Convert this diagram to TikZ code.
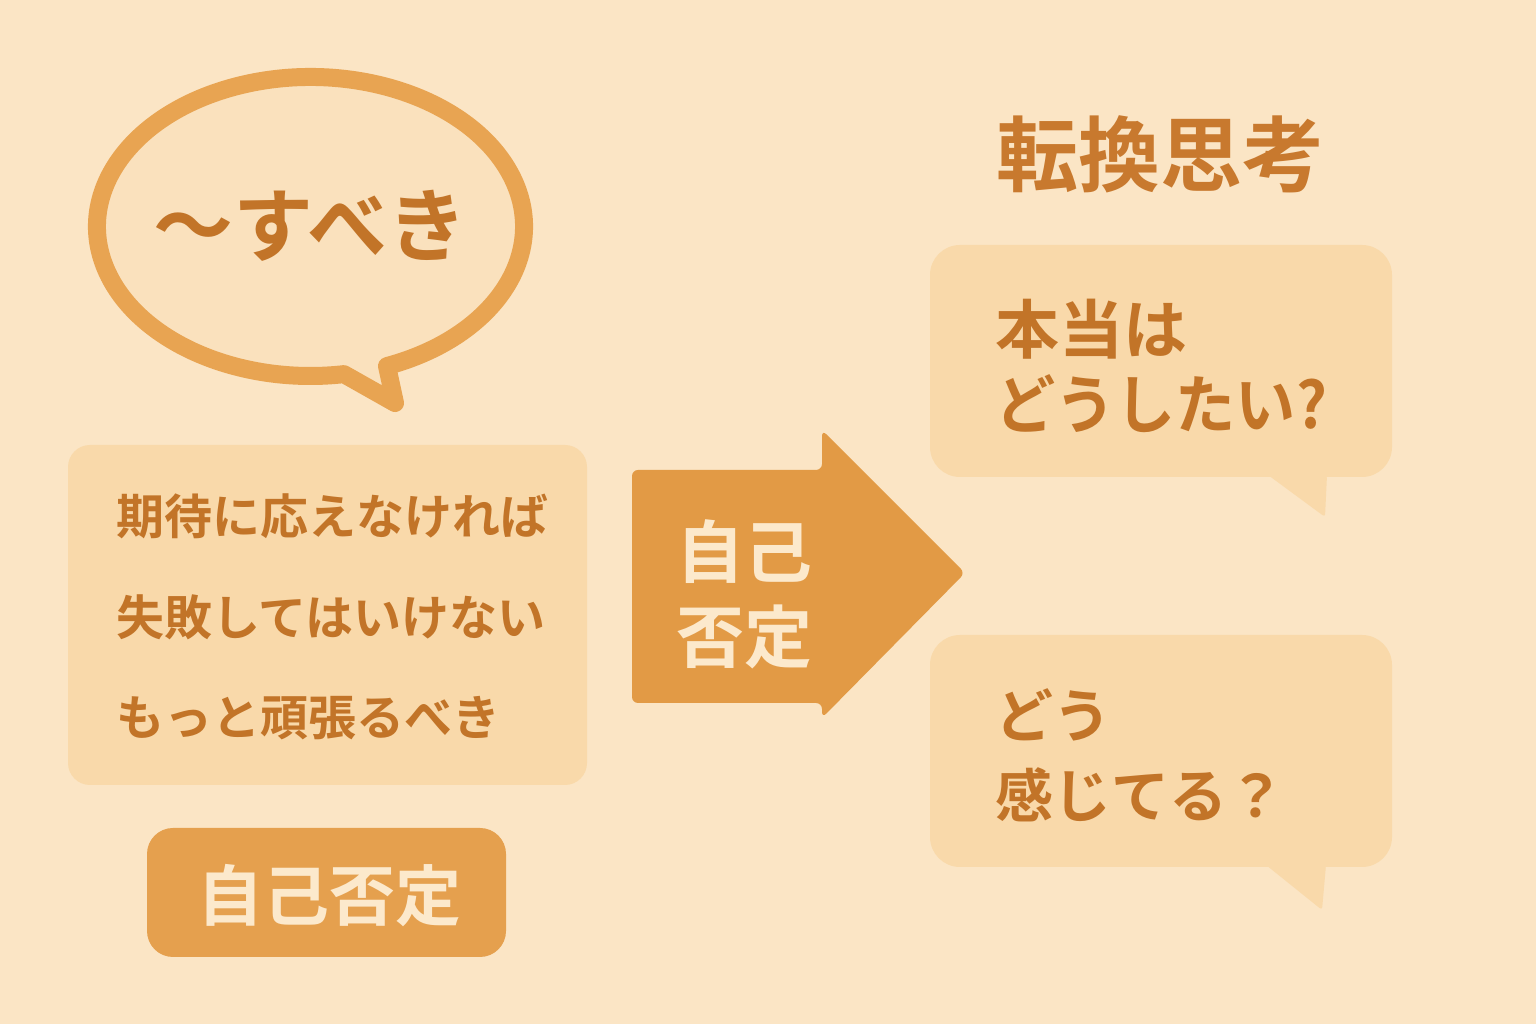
\documentclass[tikz,border=0pt]{standalone}
\usepackage{fontspec}
\setmainfont{Noto Sans CJK JP}[BoldFont={* Bold}]
\definecolor{bg}{HTML}{FBE5C5}
\definecolor{boxfill}{HTML}{F9D9AA}
\definecolor{inner}{HTML}{FAE1BD}
\definecolor{txt}{HTML}{C27428}
\definecolor{ttl}{HTML}{C8792E}
\definecolor{ring}{HTML}{E8A452}
\definecolor{arrowc}{HTML}{E29A45}
\definecolor{badge}{HTML}{E5A04E}
\definecolor{cream}{HTML}{FCE9CC}
\tikzset{
  softbox/.style={fill=boxfill, draw=none},
  darktext/.style={text=txt, font=\bfseries, inner sep=0pt, anchor=base west},
  creamtext/.style={text=cream, font=\bfseries, inner sep=0pt},
}
\begin{document}
\begin{tikzpicture}[x=1pt,y=1pt]
\fill[bg] (0,0) rectangle (1536,1024);
\useasboundingbox (0,0) rectangle (1536,1024);

% speech bubble (ellipse with tail)
\draw[line width=18pt, draw=ring, fill=inner, line join=round]
  (310.5,797.5) ++(291:213.5 and 149.5)
  arc[start angle=291, end angle=639, x radius=213.5, y radius=149.5]
  -- (395,621) -- cycle;
\node[darktext, font=\bfseries\fontsize{80}{80}\selectfont] (should) at (153,768) {〜すべき};

% left box
\fill[softbox, rounded corners=22pt] (68,239) rectangle (587,579);
\node[darktext, font=\bfseries\fontsize{48}{48}\selectfont] (l1) at (116,489) {期待に応えなければ};
\node[darktext, font=\bfseries\fontsize{48}{48}\selectfont] (l2) at (116,388) {失敗してはいけない};
\node[darktext, font=\bfseries\fontsize{48}{48}\selectfont] (l3) at (116,288) {もっと頑張るべき};

% bottom badge
\fill[badge, rounded corners=26pt] (147,67) rectangle (506,196);
\node[creamtext, anchor=base, font=\bfseries\fontsize{66}{66}\selectfont] (badgetext) at (329,103) {自己否定};

% big arrow
\fill[arrowc, rounded corners=6pt] (632,554) -- (822,554) -- (822,594) -- (965,451)
  -- (822,306) -- (822,321) -- (632,321) -- cycle;
\node[creamtext, anchor=base west, font=\bfseries\fontsize{68}{68}\selectfont] (a1) at (676,446) {自己};
\node[creamtext, anchor=base west, font=\bfseries\fontsize{68}{68}\selectfont] (a2) at (676,361) {否定};

% title
\node[darktext, text=ttl, font=\bfseries\fontsize{82}{82}\selectfont] (title) at (996,838) {転換思考};

% right box 1
\fill[softbox, rounded corners=30pt] (930,547) rectangle (1392,779);
\fill[softbox, rounded corners=3pt] (1268,549) -- (1325,507) -- (1327,549) -- cycle;
\node[darktext, font=\bfseries\fontsize{64}{64}\selectfont] (r1a) at (995,670) {本当は};
\node[darktext, font=\bfseries\fontsize{64}{64}\selectfont] (r1b) at (995,595) {\scalebox{0.94}[1]{どうしたい?}};

% right box 2
\fill[softbox, rounded corners=30pt] (930,157) rectangle (1392,389);
\fill[softbox, rounded corners=3pt] (1266,159) -- (1322,114) -- (1326,159) -- cycle;
\node[darktext, font=\bfseries\fontsize{58}{58}\selectfont] (r2a) at (995,286) {どう};
\node[darktext, font=\bfseries\fontsize{58}{58}\selectfont] (r2b) at (995,206) {感じてる？};
\end{tikzpicture}
\end{document}
